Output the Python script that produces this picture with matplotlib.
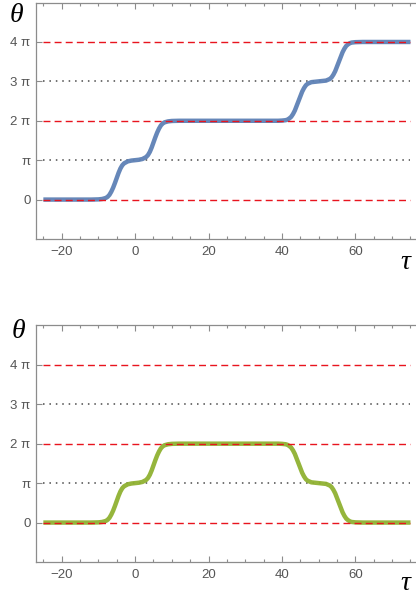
import numpy as np
import matplotlib.pyplot as plt

# values, theta given in units of pi
tau_a = [-25, -12, -10, -9, -8, -7.5, -7, -6.5, -6, -5.5, -5, -4.5, -4, -3.5, -3, -2, -1, 0, 1, 2,
         3, 3.5, 4, 4.5, 5, 5.5, 6, 6.5, 7, 7.5, 8, 9, 10, 12,
         39, 40, 41, 41.5, 42, 42.5, 43, 43.5, 44, 44.5, 45, 45.5, 46, 46.5, 47, 48, 50,
         52, 53, 53.5, 54, 54.5, 55, 55.5, 56, 56.5, 57, 57.5, 58, 58.5, 59, 60, 62, 75]
theta_a = [0, 0, 0.005, 0.015, 0.04, 0.07, 0.12, 0.2, 0.3, 0.42, 0.55, 0.68, 0.79, 0.87, 0.92,
           0.97, 0.99, 1.0, 1.01, 1.03,
           1.08, 1.13, 1.21, 1.32, 1.45, 1.58, 1.7, 1.8, 1.88, 1.93, 1.96, 1.985, 1.995, 2.0,
           2.0, 2.005, 2.015, 2.03, 2.06, 2.1, 2.17, 2.26, 2.38, 2.5, 2.62, 2.74, 2.83, 2.9, 2.94,
           2.98, 3.0,
           3.02, 3.06, 3.1, 3.17, 3.26, 3.38, 3.5, 3.62, 3.74, 3.83, 3.9, 3.94, 3.97, 3.985, 3.995,
           4.0, 4.0]

tau_b = tau_a
theta_b = [0, 0, 0.005, 0.015, 0.04, 0.07, 0.12, 0.2, 0.3, 0.42, 0.55, 0.68, 0.79, 0.87, 0.92,
           0.97, 0.99, 1.0, 1.01, 1.03,
           1.08, 1.13, 1.21, 1.32, 1.45, 1.58, 1.7, 1.8, 1.88, 1.93, 1.96, 1.985, 1.995, 2.0,
           2.0, 1.995, 1.985, 1.97, 1.94, 1.9, 1.83, 1.74, 1.62, 1.5, 1.38, 1.26, 1.17, 1.1, 1.06,
           1.02, 1.0,
           0.98, 0.94, 0.9, 0.83, 0.74, 0.62, 0.5, 0.38, 0.26, 0.17, 0.1, 0.06, 0.03, 0.015, 0.005,
           0, 0]

levels = [0, 1, 2, 3, 4]
level_labels = ['0', 'π', '2 π', '3 π', '4 π']
major_x = [-20, 0, 20, 40, 60]
minor_x = [-25, -15, -10, -5, 5, 10, 15, 25, 30, 35, 45, 50, 55, 65, 70, 75]

plt.rcParams['font.family'] = ['Liberation Sans', 'DejaVu Sans']
grey = '#8c8c8c'

fig = plt.figure(figsize=(4.16, 5.97), dpi=100)

def panel(rect, tau, theta, color):
    ax = fig.add_axes(rect)
    # reference levels
    for k in levels:
        if k % 2 == 0:
            ax.plot([-25, 75], [k*np.pi, k*np.pi], color='#e8141e', lw=1.0,
                    dashes=(5, 3), zorder=3)
        else:
            ax.plot([-25, 75], [k*np.pi, k*np.pi], color='#4a4a4a', lw=1.1,
                    dashes=(1, 3.2), zorder=1)
    ax.plot(tau, np.array(theta)*np.pi, color=color, lw=3.2, solid_capstyle='butt',
            solid_joinstyle='round', alpha=0.95, zorder=2)
    ax.set_xlim(-27, 76.5)
    ax.set_ylim(-np.pi, 5*np.pi)
    ax.set_xticks(major_x)
    ax.set_xticklabels(['\u221220', '0', '20', '40', '60'])
    ax.set_xticks(minor_x, minor=True)
    ax.set_yticks([k*np.pi for k in levels])
    ax.set_yticklabels(level_labels)
    ax.tick_params(axis='x', which='major', direction='in', length=4, width=0.8,
                   color=grey, labelcolor='#555555', labelsize=9.5, pad=5, top=True)
    ax.tick_params(axis='x', which='minor', direction='in', length=2.5, width=0.8,
                   color=grey, top=True)
    ax.tick_params(axis='y', direction='in', length=4, width=0.8, color=grey,
                   labelcolor='#555555', labelsize=9.5, pad=4)
    for s in ['left', 'bottom', 'top']:
        ax.spines[s].set_color(grey)
        ax.spines[s].set_linewidth(0.9)
    ax.spines['right'].set_visible(False)
    return ax

ax1 = panel([36/416, 0.5997, 380/416, 0.396], tau_a, theta_a, '#5e81b5')
ax2 = panel([36/416, 0.0586, 380/416, 0.3965], tau_b, theta_b, '#8fb131')

# axis letters
fig.text(16/416, 1 - 15/597, 'θ', family='Liberation Serif', style='italic',
         fontsize=20, ha='center', va='center')
fig.text(18/416, 1 - 331/597, 'θ', family='Liberation Serif', style='italic',
         fontsize=20, ha='center', va='center')
fig.text(405/416, 1 - 262/597, 'τ', family='Liberation Serif', style='italic',
         fontsize=20, ha='center', va='center')
fig.text(405/416, 1 - 584/597, 'τ', family='Liberation Serif', style='italic',
         fontsize=20, ha='center', va='center')

fig.savefig('out.png', dpi=100)
